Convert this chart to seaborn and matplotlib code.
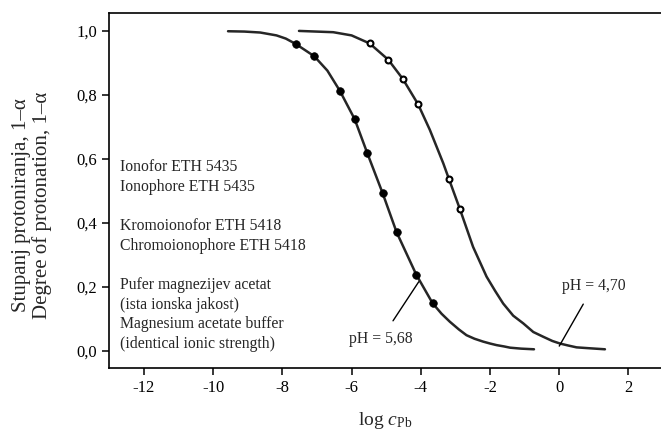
import numpy as np
import pandas as pd
import matplotlib
matplotlib.use("Agg")
import matplotlib.pyplot as plt
import seaborn as sns

# ---- data ----
# fitted curve, pH = 5,68 (filled points)
curve568_x = [-9.57, -9.10, -8.64, -8.17, -7.90, -7.61, -7.08, -6.70, -6.34, -5.91, -5.55,
              -5.10, -4.70, -4.40, -4.13, -3.66, -3.40, -3.16, -2.90, -2.68, -2.45, -2.20,
              -2.00, -1.81, -1.60, -1.42, -1.10, -0.73]
curve568_y = [0.998, 0.997, 0.994, 0.985, 0.975, 0.958, 0.920, 0.875, 0.812, 0.723, 0.618,
              0.491, 0.370, 0.300, 0.237, 0.148, 0.115, 0.090, 0.066, 0.048, 0.037, 0.028,
              0.022, 0.017, 0.013, 0.009, 0.006, 0.004]
# fitted curve, pH = 4,70 (open points)
curve470_x = [-7.52, -6.53, -6.00, -5.48, -4.94, -4.52, -4.08, -3.74, -3.35, -3.19, -2.87,
              -2.68, -2.49, -2.10, -1.85, -1.62, -1.33, -1.04, -0.75, -0.46, -0.20, 0.02,
              0.25, 0.50, 0.90, 1.32]
curve470_y = [0.999, 0.995, 0.985, 0.960, 0.909, 0.849, 0.770, 0.690, 0.585, 0.537, 0.442,
              0.383, 0.324, 0.231, 0.186, 0.147, 0.109, 0.085, 0.058, 0.043, 0.030, 0.022,
              0.016, 0.010, 0.007, 0.004]
# measured points
pts568_x = [-7.61, -7.08, -6.34, -5.91, -5.55, -5.10, -4.70, -4.13, -3.66]
pts568_y = [0.958, 0.920, 0.812, 0.723, 0.618, 0.491, 0.370, 0.237, 0.148]
pts470_x = [-5.48, -4.94, -4.52, -4.08, -3.19, -2.87]
pts470_y = [0.960, 0.909, 0.849, 0.770, 0.537, 0.442]

x_ticks = [-12, -10, -8, -6, -4, -2, 0, 2]
x_ticklabels = ["-12", "-10", "-8", "-6", "-4", "-2", "0", "2"]
y_ticks = [0.0, 0.2, 0.4, 0.6, 0.8, 1.0]
y_ticklabels = ["0,0", "0,2", "0,4", "0,6", "0,8", "1,0"]

legend_lines = ["Ionofor ETH 5435", "Ionophore ETH 5435", "",
                "Kromoionofor ETH 5418", "Chromoionophore ETH 5418", "",
                "Pufer magnezijev acetat", "(ista ionska jakost)",
                "Magnesium acetate buffer", "(identical ionic strength)"]
ylabel_text = "Stupanj protoniranja, 1\u2013\u03b1\nDegree of protonation, 1\u2013\u03b1"

# ---- style ----
sns.set_style("ticks")
plt.rcParams["font.family"] = ["Liberation Serif", "DejaVu Serif"]
plt.rcParams["mathtext.fontset"] = "custom"
plt.rcParams["mathtext.rm"] = "Liberation Serif"
plt.rcParams["mathtext.it"] = "Liberation Serif:italic"
plt.rcParams["axes.unicode_minus"] = False

fig = plt.figure(figsize=(6.61, 4.30), dpi=100)
ax = fig.add_axes([0.1654, 0.1453, 0.8346, 0.8252])

line_col = "#262626"
df568 = pd.DataFrame({"x": curve568_x, "y": curve568_y})
df470 = pd.DataFrame({"x": curve470_x, "y": curve470_y})
sns.lineplot(data=df568, x="x", y="y", sort=False, ax=ax, color=line_col, lw=1.8)
sns.lineplot(data=df470, x="x", y="y", sort=False, ax=ax, color=line_col, lw=1.8)

sns.scatterplot(x=pts568_x, y=pts568_y, ax=ax, s=30, color="black", edgecolor="black",
                linewidth=0.5, zorder=5)
sns.scatterplot(x=pts470_x, y=pts470_y, ax=ax, s=18, facecolor="white", edgecolor="black",
                linewidth=1.5, zorder=5)

ax.set_xlim(-13.0, 2.94)
ax.set_ylim(-0.053, 1.056)
ax.set_xticks(x_ticks)
ax.set_xticklabels(x_ticklabels)
ax.set_yticks(y_ticks)
ax.set_yticklabels(y_ticklabels)
ax.tick_params(axis="both", direction="out", length=5, width=1.1, labelsize=12,
               colors="black", pad=4)

for side in ["left", "top", "bottom"]:
    ax.spines[side].set_visible(True)
    ax.spines[side].set_linewidth(1.2)
    ax.spines[side].set_color("black")
ax.spines["right"].set_visible(False)

ax.set_xlabel(r"log $c_{\mathrm{Pb}}$", fontsize=14, labelpad=10)
ax.set_ylabel(ylabel_text, fontsize=15, linespacing=1.1)
ax.yaxis.set_label_coords(-0.104, 0.458)

# text block
y0 = 0.564
step = 0.0552
for i, t in enumerate(legend_lines):
    if t:
        ax.text(0.0194, y0 - i * step, t, transform=ax.transAxes, fontsize=11.3,
                ha="left", va="center")

# annotations
ax.annotate("pH = 5,68", xy=(-4.06, 0.215), xytext=(-5.15, 0.036), fontsize=11.3,
            ha="center", va="center",
            arrowprops=dict(arrowstyle="-", color="black", lw=1.0,
                            shrinkA=6, shrinkB=0))
ax.annotate("pH = 4,70", xy=(0.0, 0.014), xytext=(1.0, 0.203), fontsize=11.3,
            ha="center", va="center",
            arrowprops=dict(arrowstyle="-", color="black", lw=1.0,
                            shrinkA=6, shrinkB=0))

fig.savefig("out.png", dpi=100)
